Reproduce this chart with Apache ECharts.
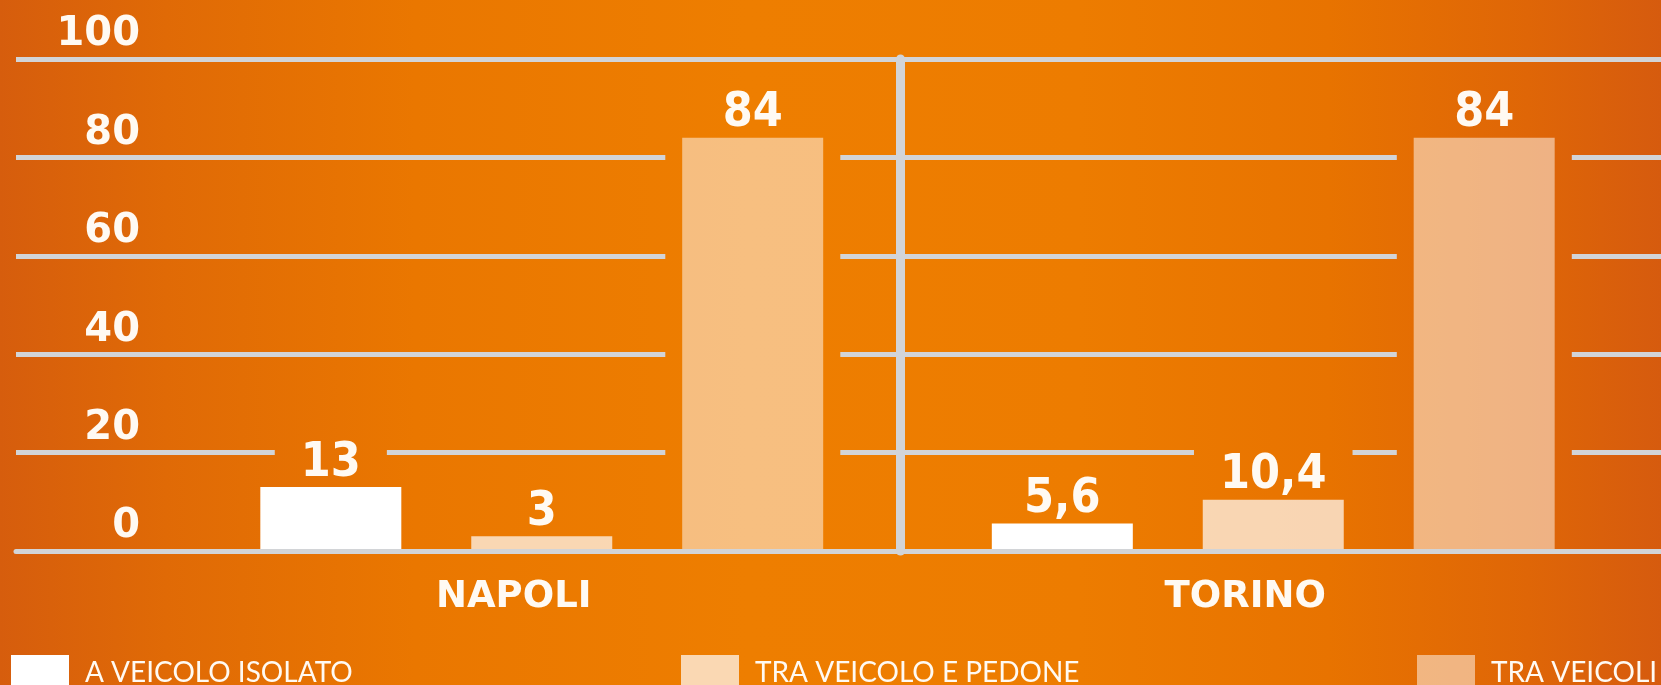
<!DOCTYPE html>
<html>
<head>
<meta charset="utf-8">
<script src="https://cdn.jsdelivr.net/npm/echarts@6/dist/echarts.min.js"></script>
<style>
html,body{margin:0;padding:0;overflow:hidden;background:#e87400}
#c{width:1661px;height:685px}
</style>
</head>
<body>
<div id="c"></div>
<script>
// ---- data ----
const cities = ['NAPOLI', 'TORINO'];
const seriesNames = ['A VEICOLO ISOLATO', 'TRA VEICOLO E PEDONE', 'TRA VEICOLI'];
const isolato = [13, 5.6];
const pedone = [3, 10.4];
const veicoli = [84, 84];
const yTicks = [0, 20, 40, 60, 80, 100];

const seriesValues = [isolato, pedone, veicoli];
const seriesColors = ['#ffffff', 'rgba(255,255,255,0.70)', 'rgba(255,255,255,0.50)'];

// background gradient (horizontal)
const W = 1661;
const stops = [
  [0.00, '#d65d0d'],
  [0.10, '#e06a06'],
  [0.25, '#ea7700'],
  [0.45, '#ee7e00'],
  [0.65, '#ed7c00'],
  [0.80, '#e87300'],
  [0.92, '#df6607'],
  [1.00, '#d65b0e']
];
function gradFrom(x0){
  return {
    type: 'linear', x: x0, y: 0, x2: x0 + W, y2: 0, global: true,
    colorStops: stops.map(s => ({offset: s[0], color: s[1]}))
  };
}
const bgGrad = gradFrom(0);

const lineColor = '#d2d4d7';
const textColor = '#fffaf3';
const boldFont = "'DejaVu Sans', 'Open Sans', sans-serif";
const narrowFont = "'Liberation Sans Narrow', 'DejaVu Sans Condensed', 'Arial Narrow', sans-serif";

const chart = echarts.init(document.getElementById('c'), null, {renderer: 'canvas'});

const mainSeries = seriesNames.map((name, i) => ({
  type: 'bar',
  name: name,
  xAxisIndex: 1,
  yAxisIndex: 1,
  data: seriesValues[i],
  barWidth: 141,
  barGap: '49.6%',
  z: 3,
  itemStyle: {color: seriesColors[i]},
  label: {
    show: true,
    position: 'top',
    distance: 4,
    color: textColor,
    fontFamily: narrowFont,
    fontWeight: 'bold',
    fontSize: 48,
    lineHeight: 40,
    padding: [18, 26, 0, 26],
    formatter: p => String(p.value).replace('.', ',')
  }
}));

const cutoutSeries = seriesNames.map((name, i) => ({
  type: 'bar',
  name: 'cut' + i,
  xAxisIndex: 2,
  yAxisIndex: 1,
  data: seriesValues[i],
  barWidth: 175,
  barGap: '20.6%',
  z: 2,
  silent: true,
  itemStyle: {color: bgGrad}
}));

const legendLefts = [11, 681, 1417];

const option = {
  animation: false,
  backgroundColor: bgGrad,
  grid: [
    {left: 16, right: 0, top: 59, bottom: 134},
    {left: 176, right: 22, top: 59, bottom: 134},
    {left: 900, width: 10, top: 59, bottom: 134}
  ],
  legend: seriesNames.map((n, i) => ({
    data: [n],
    left: legendLefts[i],
    top: 655,
    padding: 0,
    itemWidth: 58,
    itemHeight: 36,
    icon: 'rect',
    selectedMode: false,
    textStyle: {
      color: textColor,
      fontFamily: "'Lato', 'Open Sans', sans-serif",
      fontWeight: 'normal',
      fontSize: 28,
      padding: [0, 0, 0, 11]
    }
  })),
  xAxis: [
    {gridIndex: 0, type: 'value', min: 0, max: 1, z: 10,
     axisLine: {show: true, lineStyle: {color: lineColor, width: 5}},
     axisTick: {show: false}, axisLabel: {show: false}, splitLine: {show: false}},
    {gridIndex: 1, type: 'category', data: cities,
     axisLine: {show: false}, axisTick: {show: false}, splitLine: {show: false},
     axisLabel: {margin: 28, color: textColor, fontFamily: boldFont, fontWeight: 'bold',
                 fontSize: 37, padding: [0, 56, 0, 0]}},
    {gridIndex: 1, type: 'category', data: cities, show: false},
    {gridIndex: 2, type: 'value', show: false}
  ],
  yAxis: [
    {gridIndex: 0, type: 'value', min: yTicks[0], max: yTicks[yTicks.length-1], interval: yTicks[1] - yTicks[0],
     axisLine: {show: false}, axisTick: {show: false},
     splitLine: {show: true, lineStyle: {color: lineColor, width: 5}},
     axisLabel: {inside: true, align: 'right', verticalAlign: 'bottom', margin: 124,
                 color: textColor, fontFamily: boldFont, fontWeight: 'bold', fontSize: 40,
                 lineHeight: 40, padding: [0, 0, 4, 0]}},
    {gridIndex: 1, type: 'value', min: yTicks[0], max: yTicks[yTicks.length-1], show: false},
    {gridIndex: 2, type: 'value', min: 0, max: 100, z: 10,
     axisLine: {show: true, lineStyle: {color: lineColor, width: 9}},
     axisTick: {show: false}, axisLabel: {show: false}, splitLine: {show: false}}
  ],
  series: mainSeries.concat(cutoutSeries)
};

chart.setOption(option);

// give each value label a background equal to the page gradient behind it
// (label backgrounds are drawn in the label's local frame, centred on the bar),
// so the grid lines are interrupted around the labels
const updates = seriesValues.map((vals, i) => {
  const data = chart.getModel().getSeriesByIndex(i).getData();
  return {
    data: vals.map((v, j) => {
      const l = data.getItemLayout(j);
      const cx = l.x + l.width / 2;
      return {value: v, label: {backgroundColor: gradFrom(-cx)}};
    })
  };
});
chart.setOption({series: updates});
</script>
</body>
</html>
